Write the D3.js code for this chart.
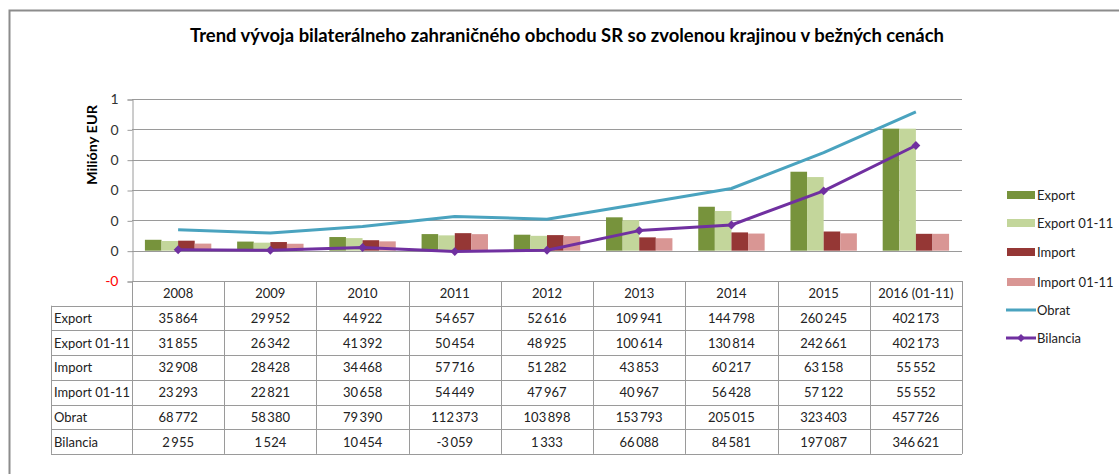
<!DOCTYPE html>
<html>
<head>
<meta charset="utf-8">
<script src="https://cdn.jsdelivr.net/npm/d3@7"></script>
<style>
  body { margin: 0; background: #fff; }
  svg text { font-family: Lato, "Open Sans", sans-serif; }
</style>
</head>
<body>
<div id="chart"></div>
<script>
const years = ["2008", "2009", "2010", "2011", "2012", "2013", "2014", "2015", "2016 (01-11)"];
const exportVals   = [35864, 29952, 44922, 54657, 52616, 109941, 144798, 260245, 402173];
const export0111   = [31855, 26342, 41392, 50454, 48925, 100614, 130814, 242661, 402173];
const importVals   = [32908, 28428, 34468, 57716, 51282, 43853, 60217, 63158, 55552];
const import0111   = [23293, 22821, 30658, 54449, 47967, 40967, 56428, 57122, 55552];
const obratVals    = [68772, 58380, 79390, 112373, 103898, 153793, 205015, 323403, 457726];
const bilanciaVals = [2955, 1524, 10454, -3059, 1333, 66088, 84581, 197087, 346621];
const yTicks = [-100000, 0, 100000, 200000, 300000, 400000, 500000];

const barSeries = [
  {name: "Export", values: exportVals, color: "#77933c"},
  {name: "Export 01-11", values: export0111, color: "#c3d69b"},
  {name: "Import", values: importVals, color: "#953735"},
  {name: "Import 01-11", values: import0111, color: "#d99694"}
];
const lineSeries = [
  {name: "Obrat", values: obratVals, color: "#4aa3bf", marker: false},
  {name: "Bilancia", values: bilanciaVals, color: "#7030a0", marker: true}
];
const tableRows = barSeries.concat(lineSeries);

const W = 1119, H = 474;
const plot = {left: 132, right: 962, top: 99, bottom: 281};
const rowH = 24.7;
const gridColor = "#9a9a9a";

const svg = d3.select("#chart").append("svg")
  .attr("width", W).attr("height", H);

// chart frame (top and left edges visible)
svg.append("path")
  .attr("d", `M9.5,${H} V10.5 H${W}`)
  .attr("fill", "none").attr("stroke", "#8c8c8c").attr("stroke-width", 2);

svg.append("text")
  .attr("x", 567).attr("y", 42)
  .attr("text-anchor", "middle")
  .attr("textLength", 754).attr("lengthAdjust", "spacingAndGlyphs")
  .style("font-size", "18px").style("font-weight", "bold")
  .text("Trend vývoja bilaterálneho zahraničného obchodu SR so zvolenou krajinou v bežných cenách");

// scales
const x = d3.scaleBand().domain(years).range([plot.left, plot.right]).padding(0);
const y = d3.scaleLinear().domain([-100000, 500000]).range([plot.bottom, plot.top]);
const barW = x.bandwidth() * 0.18;
const xInner = d3.scaleBand().domain(barSeries.map(s => s.name))
  .range([-2 * barW, 2 * barW]).padding(0);

// gridlines
svg.append("g").selectAll("line")
  .data(yTicks.slice(1))
  .join("line")
  .attr("x1", plot.left).attr("x2", plot.right)
  .attr("y1", d => Math.round(y(d)) + 0.5).attr("y2", d => Math.round(y(d)) + 0.5)
  .attr("stroke", gridColor);

// y axis
const yAxis = d3.axisLeft(y).tickValues(yTicks).tickSize(5).tickPadding(9)
  .tickFormat(d => {
    const v = Math.round(Math.abs(d) / 1e6);
    return (d < 0 ? "-" : "") + v;
  });
const yAxisG = svg.append("g")
  .attr("transform", `translate(${plot.left + 0.5},0.5)`)
  .call(yAxis);
yAxisG.select(".domain").attr("stroke", gridColor);
yAxisG.selectAll(".tick line").attr("stroke", gridColor);
yAxisG.selectAll(".tick text")
  .style("font-size", "14px")
  .attr("fill", d => d < 0 ? "#ff0000" : "#333");

svg.append("text")
  .attr("transform", "translate(97,145) rotate(-90)")
  .attr("text-anchor", "middle")
  .attr("textLength", 80).attr("lengthAdjust", "spacingAndGlyphs")
  .style("font-size", "14px").style("font-weight", "bold")
  .text("Milióny EUR");

// bars
svg.append("g").selectAll("g")
  .data(barSeries)
  .join("g")
  .attr("fill", s => s.color)
  .selectAll("rect")
  .data(s => s.values.map((v, i) => ({s: s.name, year: years[i], v})))
  .join("rect")
  .attr("x", d => x(d.year) + x.bandwidth() / 2 + xInner(d.s))
  .attr("width", xInner.bandwidth())
  .attr("y", d => y(Math.max(0, d.v)))
  .attr("height", d => Math.abs(y(d.v) - y(0)));

// lines
const line = d3.line()
  .x((d, i) => x(years[i]) + x.bandwidth() / 2)
  .y(d => y(d));
lineSeries.forEach(s => {
  svg.append("path")
    .datum(s.values)
    .attr("d", line)
    .attr("fill", "none")
    .attr("stroke", s.color)
    .attr("stroke-width", 3)
    .attr("stroke-linejoin", "round");
  if (s.marker) {
    svg.append("g").selectAll("path")
      .data(s.values)
      .join("path")
      .attr("d", d3.symbol(d3.symbolDiamond2, 50))
      .attr("transform", (d, i) => `translate(${x(years[i]) + x.bandwidth() / 2},${y(d)})`)
      .attr("fill", s.color);
  }
});

// data table
const fmt = d3.formatLocale({decimal: ",", thousands: "\u2009", grouping: [3], currency: ["", ""], minus: "-"}).format(",d");
const tbl = svg.append("g");
const tableLeft = 51;
const rowsTop = plot.bottom + rowH;
const tableBottom = plot.bottom + rowH * (tableRows.length + 1);

// horizontal axis line (top of table header)
tbl.append("line")
  .attr("x1", plot.left).attr("x2", plot.right)
  .attr("y1", plot.bottom + 0.5).attr("y2", plot.bottom + 0.5)
  .attr("stroke", gridColor);
// row lines
tbl.selectAll("line.row")
  .data(d3.range(tableRows.length + 1))
  .join("line").attr("class", "row")
  .attr("x1", tableLeft).attr("x2", plot.right)
  .attr("y1", i => Math.round(rowsTop + i * rowH) + 0.5)
  .attr("y2", i => Math.round(rowsTop + i * rowH) + 0.5)
  .attr("stroke", gridColor);
// column lines
tbl.selectAll("line.col")
  .data(years.concat(["end"]))
  .join("line").attr("class", "col")
  .attr("x1", d => Math.round(d === "end" ? plot.right : x(d)) + 0.5)
  .attr("x2", d => Math.round(d === "end" ? plot.right : x(d)) + 0.5)
  .attr("y1", plot.bottom).attr("y2", tableBottom)
  .attr("stroke", gridColor);
tbl.append("line")
  .attr("x1", tableLeft + 0.5).attr("x2", tableLeft + 0.5)
  .attr("y1", rowsTop).attr("y2", tableBottom)
  .attr("stroke", gridColor);

// header
tbl.selectAll("text.head")
  .data(years)
  .join("text").attr("class", "head")
  .attr("x", d => x(d) + x.bandwidth() / 2)
  .attr("y", plot.bottom + rowH / 2 + 5)
  .attr("text-anchor", "middle")
  .style("font-size", "13px").attr("fill", "#222")
  .text(d => d);

tableRows.forEach((s, r) => {
  const cy = rowsTop + r * rowH + rowH / 2 + 5;
  const lbl = tbl.append("text")
    .attr("x", tableLeft + 3).attr("y", cy)
    .style("font-size", "13px").attr("fill", "#222")
    .text(s.name);
  // squeeze long labels so they stay inside the first column
  const maxW = plot.left - tableLeft - 5;
  if (lbl.node().getComputedTextLength() > maxW) {
    lbl.attr("textLength", maxW).attr("lengthAdjust", "spacingAndGlyphs");
  }
  tbl.append("g").selectAll("text")
    .data(s.values)
    .join("text")
    .attr("x", (d, i) => x(years[i]) + x.bandwidth() / 2)
    .attr("y", cy)
    .attr("text-anchor", "middle")
    .style("font-size", "13px").attr("fill", "#222")
    .text(d => fmt(d));
});

// legend
const legendY = [195, 223, 252, 282, 310, 338];
const leg = svg.append("g");
tableRows.forEach((s, i) => {
  const g = leg.append("g").attr("transform", `translate(1007,${legendY[i]})`);
  if (s.marker === undefined) {
    g.append("rect").attr("x", 0).attr("y", -4).attr("width", 28).attr("height", 8).attr("fill", s.color);
  } else {
    g.append("line").attr("x1", -1).attr("x2", 29).attr("stroke", s.color).attr("stroke-width", 3);
    if (s.marker) {
      g.append("path").attr("d", d3.symbol(d3.symbolDiamond2, 40)).attr("transform", "translate(14,0)").attr("fill", s.color);
    }
  }
  g.append("text")
    .attr("x", 30).attr("y", 5)
    .style("font-size", "13px").attr("fill", "#222")
    .text(s.name);
});
</script>
</body>
</html>
